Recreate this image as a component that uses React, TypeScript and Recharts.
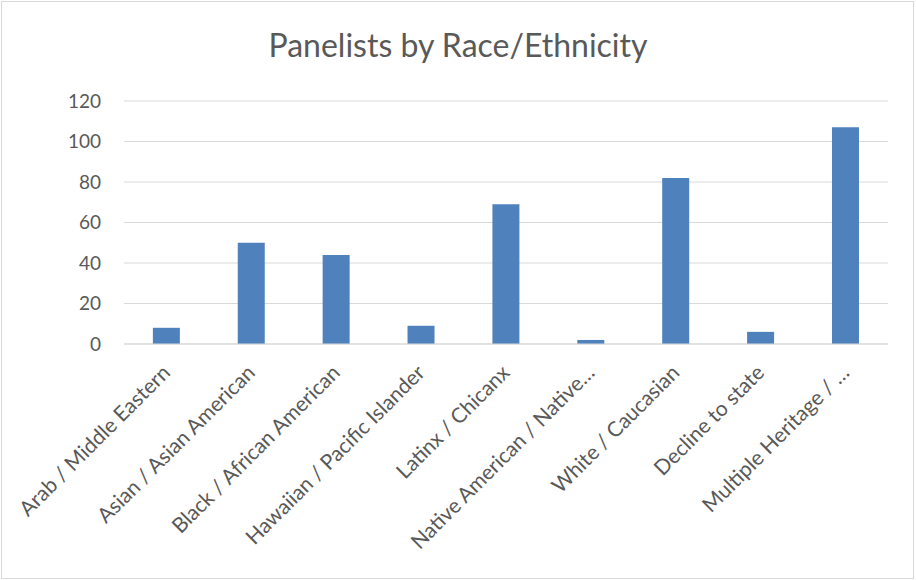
import { BarChart, Bar, XAxis, YAxis, CartesianGrid } from "recharts";

const categories = [
  "Arab / Middle Eastern",
  "Asian / Asian American",
  "Black / African American",
  "Hawaiian / Pacific Islander",
  "Latinx / Chicanx",
  "Native American / Native…",
  "White / Caucasian",
  "Decline to state",
  "Multiple Heritage / …",
];
const panelists = [8, 50, 44, 9, 69, 2, 82, 6, 107];
const yTicks = [0, 20, 40, 60, 80, 100, 120];

const data = categories.map((name, i) => ({ name, count: panelists[i] }));

const FONT = "Lato, 'Open Sans', sans-serif";
const TEXT = "#595959";

// Excel-style slanted category label, right end sits under the bar
function SlantTick({ x, y, payload }: { x?: number; y?: number; payload?: { value: string } }) {
  return (
    <g transform={`translate(${(x ?? 0) + 5},${(y ?? 0) + 22})`}>
      <text transform="rotate(-45)" textAnchor="end" fill={TEXT} fontSize={21} fontFamily={FONT}>
        {payload?.value}
      </text>
    </g>
  );
}

export default function App() {
  return (
    <div style={{ position: "absolute", left: 0, top: 0, width: 916, height: 580, background: "#fff" }}>
      <div
        style={{
          position: "absolute",
          left: 1,
          top: 1,
          width: 911,
          height: 576,
          border: "1px solid #d9d9d9",
        }}
      />
      <div
        style={{
          position: "absolute",
          left: 0,
          top: 25,
          width: 916,
          textAlign: "center",
          fontFamily: FONT,
          fontSize: 32,
          color: TEXT,
        }}
      >
        Panelists by Race/Ethnicity
      </div>
      <div style={{ position: "absolute", left: 0, top: 0 }}>
        <BarChart
          width={916}
          height={580}
          data={data}
          margin={{ top: 101, right: 28, bottom: 36, left: 0 }}
          barCategoryGap="34%"
        >
          <CartesianGrid vertical={false} stroke="#d9d9d9" />
          <XAxis
            dataKey="name"
            interval={0}
            height={200}
            tickLine={false}
            axisLine={{ stroke: "#d9d9d9" }}
            tick={<SlantTick />}
          />
          <YAxis
            width={124}
            domain={[0, 120]}
            ticks={yTicks}
            axisLine={false}
            tickLine={false}
            tickMargin={17}
            tick={{ fontSize: 19, fill: TEXT, fontFamily: FONT }}
          />
          <Bar dataKey="count" fill="#4f81bd" isAnimationActive={false} />
        </BarChart>
      </div>
    </div>
  );
}
